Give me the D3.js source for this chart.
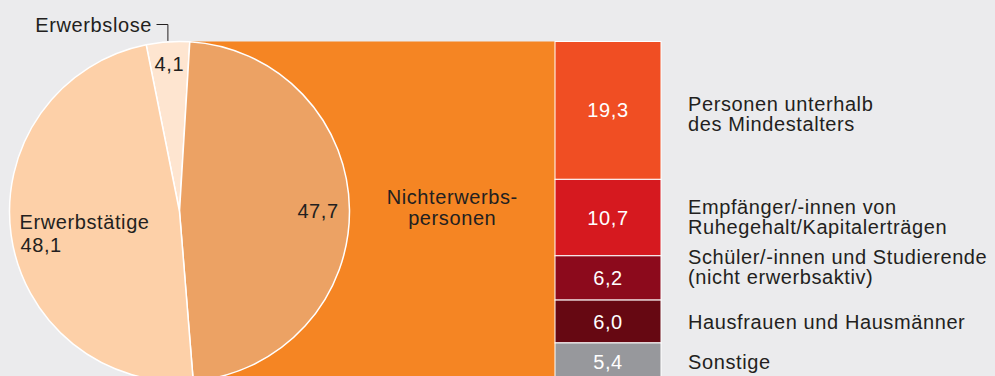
<!DOCTYPE html>
<html>
<head>
<meta charset="utf-8">
<script src="https://cdn.jsdelivr.net/npm/d3@7/dist/d3.min.js"></script>
<style>
  html, body { margin: 0; padding: 0; background: #ebebed; overflow: hidden; }
  svg { display: block; }
  text { font-family: "Liberation Sans", Arial, Helvetica, sans-serif; font-size: 20px; letter-spacing: 0.6px; fill: #231f20; }
</style>
</head>
<body>
<svg id="chart" width="995" height="376"></svg>
<script>
// Bevölkerung nach Erwerbsbeteiligung (in %)
const pieNames = ["Erwerbslose", "Nichterwerbspersonen", "Erwerbstätige"];
const pieValues = [4.1, 47.7, 48.1];
const pieColors = ["#fee5d0", "#eca264", "#fdd0a8"];

// Aufgliederung der Nichterwerbspersonen
const subNames = [
  ["Personen unterhalb", "des Mindestalters"],
  ["Empfänger/-innen von", "Ruhegehalt/Kapitalerträgen"],
  ["Schüler/-innen und Studierende", "(nicht erwerbsaktiv)"],
  ["Hausfrauen und Hausmänner"],
  ["Sonstige"]
];
const subValues = [19.3, 10.7, 6.2, 6.0, 5.4];
const subColors = ["#f04e23", "#d6191f", "#8c0a1c", "#660812", "#97989c"];

const fmt = v => d3.format(".1f")(v).replace(".", ",");

const svg = d3.select("#chart");
const cx = 179.5, cy = 211.5, r = 170;
const barX = 555, barW = 106;
const labelX = 688;
const lineH = 20;
// vertical nudges of the right-hand labels relative to their segment centres
const labelNudge = [4, -1, -10.5, 0, 0];

// stacked bar scale: spans the pie's full height
const total = d3.sum(subValues);
const y = d3.scaleLinear().domain([0, total]).range([cy - r, cy + r]);
const stack = subValues.map((v, i) => ({
  v, i, y0: d3.sum(subValues.slice(0, i)), y1: d3.sum(subValues.slice(0, i + 1))
}));

// connecting band from the pie to the stacked bar
svg.append("path")
  .attr("d", d3.line()([[cx, y(0)], [barX, y(0)], [barX, y(total)], [cx, y(total)]]) + "Z")
  .attr("fill", "#f58523");

// pie
const pie = d3.pie().sort(null)
  .startAngle(-11.3 * Math.PI / 180)
  .endAngle((360 - 11.3) * Math.PI / 180);
const arcs = pie(pieValues);
const arc = d3.arc().innerRadius(0).outerRadius(r);
const g = svg.append("g").attr("transform", `translate(${cx},${cy})`);
g.selectAll("path").data(arcs).join("path")
  .attr("d", arc)
  .attr("fill", (d, i) => pieColors[i])
  .attr("stroke", "#fff")
  .attr("stroke-width", 1.5)
  .attr("stroke-linejoin", "round");

// stacked bar segments
svg.append("g").selectAll("rect").data(stack).join("rect")
  .attr("x", barX)
  .attr("y", d => y(d.y0))
  .attr("width", barW)
  .attr("height", d => y(d.y1) - y(d.y0))
  .attr("fill", d => subColors[d.i])
  .attr("stroke", "#fff")
  .attr("stroke-width", 1);

// values inside the bar
svg.append("g").selectAll("text").data(stack).join("text")
  .attr("x", barX + barW / 2)
  .attr("y", d => (y(d.y0) + y(d.y1)) / 2 + 7)
  .attr("text-anchor", "middle")
  .style("fill", "#fff")
  .text(d => fmt(d.v));

// category labels to the right of the bar
stack.forEach(d => {
  const lines = subNames[d.i];
  const mid = (y(d.y0) + y(d.y1)) / 2 + labelNudge[d.i];
  const first = mid + 7 - (lines.length - 1) * lineH / 2;
  const t = svg.append("text").attr("x", labelX).attr("y", first);
  lines.forEach((ln, k) => t.append("tspan").attr("x", labelX).attr("dy", k ? lineH : 0).text(ln));
});

// pie labels
const a0 = arcs[0];
const midA = (a0.startAngle + a0.endAngle) / 2;
const px = r * Math.sin(midA), py = -r * Math.cos(midA);
// Erwerbslose: label outside with a leader
svg.append("text").attr("x", cx - 27.5).attr("y", cy - 179.5)
  .attr("text-anchor", "end").text(pieNames[0]);
svg.append("path")
  .attr("d", d3.line()([[cx - 23, cy - 187], [cx + px, cy - 187], [cx + px, cy + py - 1]]))
  .attr("fill", "none").attr("stroke", "#231f20").attr("stroke-width", 1);
svg.append("text").attr("x", cx + 0.87 * px).attr("y", cy + 0.87 * py + 7)
  .attr("text-anchor", "middle").text(fmt(pieValues[0]));

// Nichterwerbspersonen value inside slice, name on the band
svg.append("text").attr("x", cx + 0.815 * r).attr("y", cy + 6)
  .attr("text-anchor", "middle").text(fmt(pieValues[1]));
const nx = (cx + r + barX) / 2;
const nt = svg.append("text").attr("x", nx).attr("y", cy - 7.5).attr("text-anchor", "middle");
nt.append("tspan").attr("x", nx).attr("dy", 0).text("Nichterwerbs-");
nt.append("tspan").attr("x", nx).attr("dy", 21).text("personen");

// Erwerbstätige
const et = svg.append("text").attr("x", cx - r + 10).attr("y", cy + 17.5);
et.append("tspan").attr("x", cx - r + 10).attr("dy", 0).text(pieNames[2]);
et.append("tspan").attr("x", cx - r + 11).attr("dy", 23).text(fmt(pieValues[2]));
</script>
</body>
</html>
